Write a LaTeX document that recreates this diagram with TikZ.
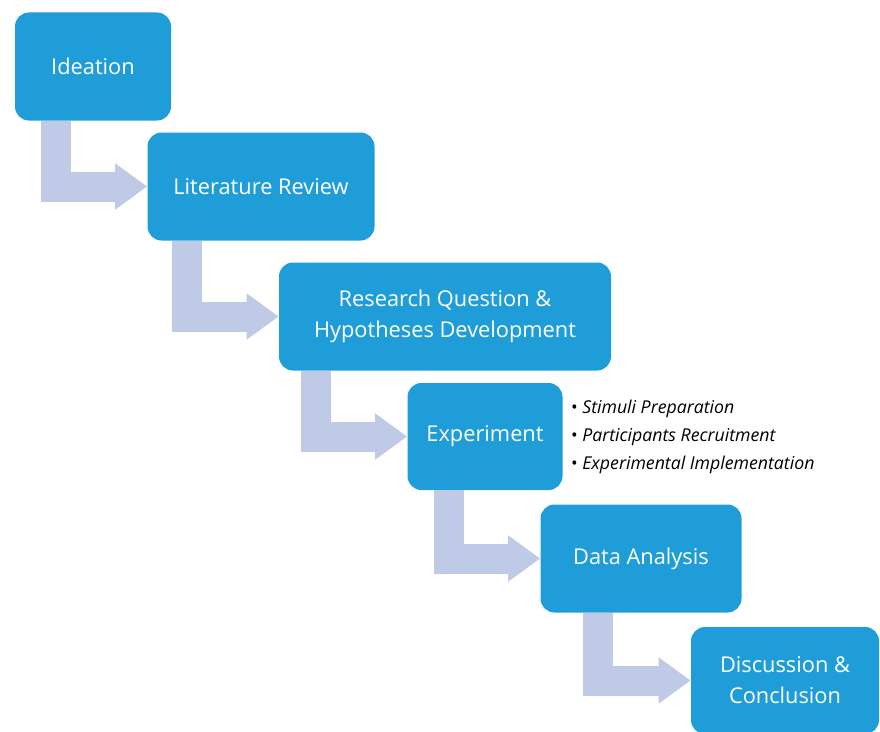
\documentclass[tikz,border=0pt]{standalone}
\usepackage{fontspec}
\setmainfont{Open Sans}
\usetikzlibrary{positioning,arrows.meta}

\definecolor{stageblue}{HTML}{1F9DD9}
\definecolor{flowlilac}{HTML}{BFCAE6}

\begin{document}
\begin{tikzpicture}[node distance=3cm,
  stage/.style={rectangle, rounded corners=0.35cm, fill=stageblue, text=white, minimum height=2.7cm, align=center, font=\fontsize{15.5}{22}\selectfont},
  flow/.style={draw=flowlilac, line width=0.75cm, line join=miter, -{Triangle[length=0.8cm, width=1.1cm]}}]

% page frame
\useasboundingbox (0,0) rectangle (22,-18.275);

% Ideation
\node (ideation) [stage, minimum width=3.9cm] at (2.325,-1.6625) {Ideation};

% Literature Review
\node (literature) [stage, minimum width=5.675cm, below of=ideation, xshift=4.2cm] {Literature Review};

% Research question and hypotheses
\node (hypotheses) [stage, minimum width=8.3cm, below of=literature, xshift=4.6cm, yshift=-0.25cm] {Research Question \&\\Hypotheses Development};

% Experiment
\node (experiment) [stage, minimum width=3.875cm, minimum height=2.675cm, below of=hypotheses, xshift=1cm] {Experiment};

% Steps of the experiment, next to its box
\node (steps) [right=0.2cm of experiment, inner sep=0pt, align=left, font=\fontsize{12.6}{19.9}\selectfont] {\textbullet\ \textit{Stimuli Preparation}\\\textbullet\ \textit{Participants Recruitment}\\\textbullet\ \textit{Experimental Implementation}};

% Data Analysis
\node (analysis) [stage, minimum width=5.025cm, below of=experiment, xshift=3.9cm, yshift=-0.05cm] {Data Analysis};

% Discussion and conclusion
\node (discussion) [stage, minimum width=4.7cm, minimum height=2.675cm, below of=analysis, xshift=3.6cm, yshift=-0.05cm] {Discussion \&\\Conclusion};

% Bent arrows
\draw[flow] ([xshift=1.04cm]ideation.south west) |- (literature.west);
\draw[flow] ([xshift=1.0cm]literature.south west) |- (hypotheses.west);
\draw[flow] ([xshift=0.925cm]hypotheses.south west) |- (experiment.west);
\draw[flow] ([xshift=1.04cm]experiment.south west) |- (analysis.west);
\draw[flow] ([xshift=1.45cm]analysis.south west) |- (discussion.west);

\end{tikzpicture}
\end{document}
